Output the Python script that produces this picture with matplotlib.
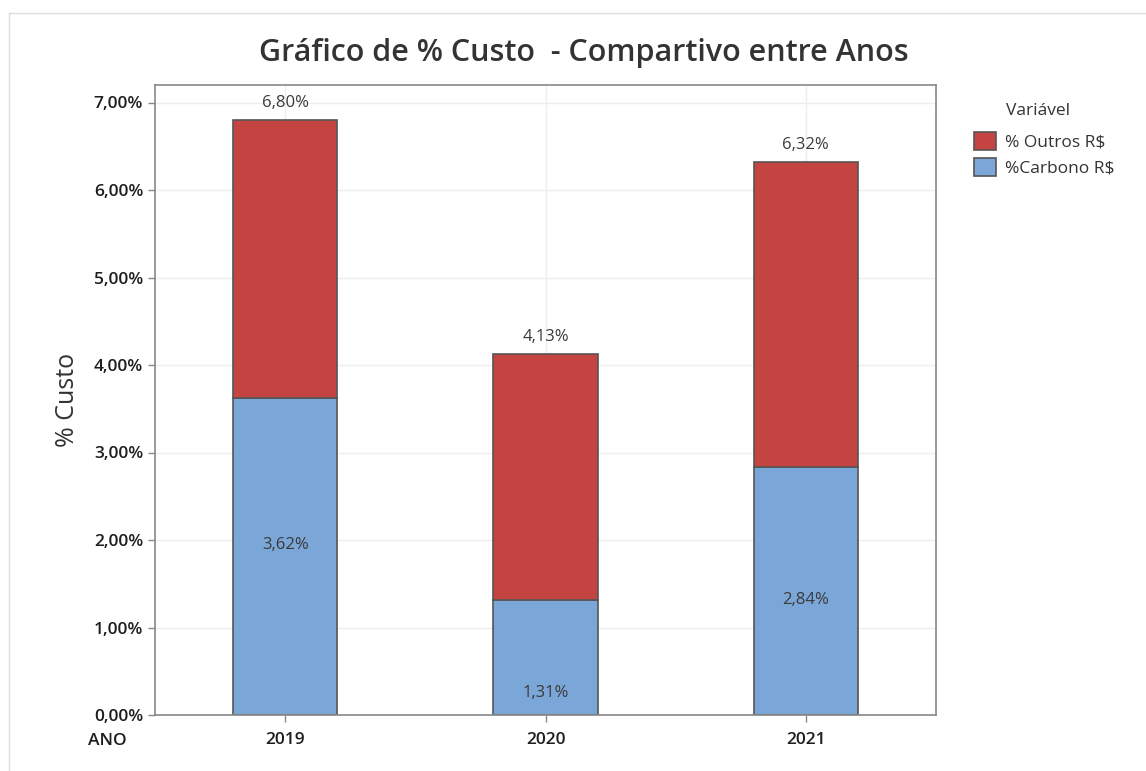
import matplotlib
matplotlib.use("Agg")
import matplotlib.pyplot as plt
from matplotlib.patches import Patch
from matplotlib.lines import Line2D

anos = ["2019", "2020", "2021"]
carbono = [3.62, 1.31, 2.84]
outros = [3.18, 2.82, 3.48]
totais = [6.80, 4.13, 6.32]
carbono_label_y = [1.94, 0.25, 1.32]
yticks = [0, 1, 2, 3, 4, 5, 6, 7]

plt.rcParams['font.family'] = ['Open Sans', 'DejaVu Sans']

red = "#C44442"
blue = "#7BA6D8"
edge = "#555555"
txt = "#3a3a3a"

W, H = 1146, 771
fig = plt.figure(figsize=(W / 100, H / 100), dpi=100)
ax = fig.add_axes([155 / W, 1 - 715 / H, (936 - 155) / W, (715 - 85) / H])

x = list(range(len(anos)))
ax.set_axisbelow(True)
ax.grid(True, color="#EEEEEE", linewidth=1)
ax.bar(x, carbono, width=0.4, color=blue, edgecolor=edge, linewidth=1.2, zorder=2)
ax.bar(x, outros, width=0.4, bottom=carbono, color=red, edgecolor=edge, linewidth=1.2, zorder=2)

for i in x:
    ax.text(i, totais[i] + 0.1, f"{totais[i]:.2f}%".replace(".", ","), ha="center", va="bottom",
            fontsize=12, color=txt)
    ax.text(i, carbono_label_y[i], f"{carbono[i]:.2f}%".replace(".", ","), ha="center", va="center",
            fontsize=12, color=txt)

ax.set_xlim(-0.5, 2.5)
ax.set_ylim(0, 7.2)
ax.set_xticks(x)
ax.set_xticklabels(anos)
ax.set_yticks(yticks)
ax.set_yticklabels([f"{v:.2f}%".replace(".", ",") for v in yticks])
ax.tick_params(axis="both", labelsize=12.5, colors="#888888", labelcolor="#1e1e1e", length=5, width=1)
ax.tick_params(axis="x", pad=7)
for lab in ax.get_xticklabels() + ax.get_yticklabels():
    lab.set_fontweight("semibold")
for s in ax.spines.values():
    s.set_color("#888888")
    s.set_linewidth(1.2)

ax.set_ylabel("% Custo", fontsize=18, color="#333333", labelpad=10)
fig.text(88 / W, 1 - 741 / H, "ANO", fontsize=12.5, color="#1e1e1e", fontweight="semibold",
         ha="left", va="center")
fig.text(584 / W, 1 - 53 / H, "Gráfico de % Custo  - Compartivo entre Anos", fontsize=22,
         color="#333333", fontweight="semibold", ha="center", va="center")

handles = [Patch(facecolor=red, edgecolor=edge, linewidth=1.2, label="% Outros R$"),
           Patch(facecolor=blue, edgecolor=edge, linewidth=1.2, label="%Carbono R$")]
leg = fig.legend(handles=handles, loc="upper left",
                 bbox_to_anchor=(962 / W, 1 - 120 / H), frameon=False, fontsize=12.5,
                 handlelength=1.25, handleheight=1.2, borderpad=0.2,
                 handletextpad=0.5, labelspacing=0.42)
for t in leg.get_texts():
    t.set_color("#333333")
fig.text(1006 / W, 1 - 111 / H, "Variável", fontsize=12.5, color="#333333", ha="left", va="center")

fig.add_artist(Line2D([9 / W, 9 / W], [0, 1 - 13 / H], transform=fig.transFigure, color="#DDDDDD", linewidth=1))
fig.add_artist(Line2D([9 / W, 1], [1 - 13 / H, 1 - 13 / H], transform=fig.transFigure, color="#DDDDDD", linewidth=1))

fig.savefig("out.png", dpi=100)
